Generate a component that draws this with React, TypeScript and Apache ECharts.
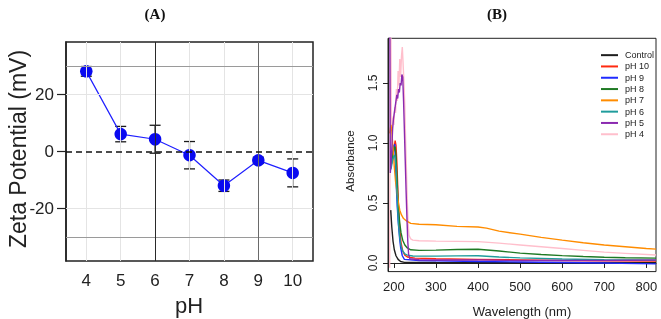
import React, { useEffect, useRef } from "react";
import * as echarts from "echarts";

// ---- Panel A: zeta potential vs pH ----
const PH_VALUES = [4, 5, 6, 7, 8, 9, 10];
const ZETA_MEAN = [28.1, 6.1, 4.3, -1.3, -12.0, -3.1, -7.5];
const ZETA_ERR = [1.7, 2.7, 4.9, 4.8, 2.0, 1.1, 4.9];
const ZETA_TICKS = [-20, 0, 20];
const ZETA_REF_LINES = [30, -30];
const ZETA_LIGHT_GRID = [20, -20];
const PH_DARK_LINES = [6, 9];

// ---- Panel B: absorbance spectra ----
const WAVELENGTH_TICKS = [200, 300, 400, 500, 600, 700, 800];
const ABS_TICKS = [0, 0.5, 1, 1.5];
const SPECTRA_NAMES = ["Control", "pH 10", "pH 9", "pH 8", "pH 7", "pH 6", "pH 5", "pH 4"];
const SPECTRA_COLORS = ["#1e1e1e", "#ff2a10", "#1f2bff", "#1f7a24", "#ff8c00", "#1f9c9c", "#8b2ab0", "#ffbfcc"];

const CONTROL = [
  [192.5, 0.44], [195, 0.3], [198, 0.18], [201, 0.11], [205, 0.06], [210, 0.03], [216, 0.012],
  [225, 0.005], [300, 0.004], [400, 0.003], [500, 0.003], [600, 0.002], [700, 0.002], [823, 0.002],
];
const PH10 = [
  [193, 0.8], [197, 0.88], [200, 0.95], [203, 1.02], [205, 0.98], [207, 0.85], [209, 0.65], [211, 0.45],
  [214, 0.28], [217, 0.17], [221, 0.1], [226, 0.065], [232, 0.05], [250, 0.04], [300, 0.035],
  [400, 0.03], [500, 0.025], [600, 0.02], [700, 0.018], [823, 0.015],
];
const PH9 = [
  [193, 0.85], [196, 0.9], [199, 0.97], [202, 0.99], [204, 0.8], [206, 0.62], [208, 0.47], [210, 0.36],
  [212, 0.27], [214, 0.19], [216, 0.13], [220, 0.06], [225, 0.03], [260, 0.02], [300, 0.018],
  [400, 0.012], [500, 0.008], [600, 0.004], [700, 0.0], [823, -0.008],
];
const PH8 = [
  [193, 0.8], [197, 0.9], [201, 0.96], [203, 0.97], [205, 0.9], [207, 0.75], [209, 0.58], [211, 0.45],
  [214, 0.33], [217, 0.25], [221, 0.19], [226, 0.15], [232, 0.125], [240, 0.11], [260, 0.105],
  [300, 0.107], [350, 0.112], [400, 0.114], [450, 0.1], [500, 0.082], [550, 0.07], [600, 0.061],
  [650, 0.054], [700, 0.048], [750, 0.044], [823, 0.04],
];
const PH7 = [
  [190, 1.08], [193, 1.15], [195, 1.1], [197, 1.0], [199, 0.9], [201, 0.8], [204, 0.68], [207, 0.6],
  [210, 0.52], [214, 0.44], [218, 0.4], [223, 0.37], [230, 0.35], [240, 0.33], [260, 0.322],
  [300, 0.318], [350, 0.305], [400, 0.3], [420, 0.29], [450, 0.265], [500, 0.24], [550, 0.213],
  [600, 0.19], [650, 0.168], [700, 0.15], [750, 0.135], [800, 0.12], [823, 0.115],
];
const PH6 = [
  [193, 0.78], [197, 0.86], [201, 0.9], [203, 0.88], [205, 0.8], [207, 0.62], [209, 0.45], [211, 0.32],
  [214, 0.21], [217, 0.14], [221, 0.1], [226, 0.075], [232, 0.065], [245, 0.058], [300, 0.057],
  [350, 0.059], [400, 0.06], [450, 0.05], [500, 0.042], [600, 0.033], [700, 0.027], [823, 0.023],
];
const PH5 = [
  [190, 2.5], [191.5, 0.75], [193, 0.82], [195, 0.95], [197, 1.12], [199, 1.2], [201, 1.25], [203, 1.3],
  [205, 1.35], [207, 1.4], [209, 1.37], [211, 1.45], [213, 1.42], [215, 1.5], [217, 1.48], [219, 1.57],
  [221, 1.55], [223, 1.35], [225, 1.1], [227, 0.85], [229, 0.6], [231, 0.38], [233, 0.18], [235, 0.07],
  [238, 0.035], [260, 0.027], [300, 0.025], [400, 0.025], [500, 0.02], [600, 0.02], [700, 0.02],
  [823, 0.025],
];
const PH4 = [
  [190, -0.04], [192, 2.4], [194, 1.15], [196, 1.08], [198, 1.22], [200, 1.15], [202, 1.3], [204, 1.25],
  [206, 1.45], [208, 1.35], [210, 1.6], [212, 1.48], [214, 1.7], [216, 1.55], [218, 1.72], [220, 1.8],
  [222, 1.65], [224, 1.5], [226, 1.3], [228, 1.0], [230, 0.75], [232, 0.5], [234, 0.32], [236, 0.23],
  [240, 0.2], [245, 0.19], [260, 0.185], [300, 0.182], [350, 0.18], [400, 0.178], [450, 0.165],
  [500, 0.15], [550, 0.135], [600, 0.12], [650, 0.105], [700, 0.09], [750, 0.08], [823, 0.066],
];
const SPECTRA_DATA = [CONTROL, PH10, PH9, PH8, PH7, PH6, PH5, PH4];
// pH 4 goes underneath the other traces
const DRAW_ORDER = [7, 0, 1, 2, 3, 4, 5, 6];

const SANS = "'Liberation Sans', Arial, Helvetica, sans-serif";
const SERIF = "'Liberation Serif', 'Times New Roman', serif";

export default function App() {
  const ref = useRef<HTMLDivElement>(null);

  useEffect(() => {
    if (!ref.current) return;
    const chart = echarts.init(ref.current, null, { renderer: "svg" });

    const errorData = PH_VALUES.map((x, i) => [x, ZETA_MEAN[i] - ZETA_ERR[i], ZETA_MEAN[i] + ZETA_ERR[i]]);
    const meanData = PH_VALUES.map((x, i) => [x, ZETA_MEAN[i]]);

    const refLines: any[] = [
      ...PH_VALUES.filter((v) => !PH_DARK_LINES.includes(v)).map((v) => ({
        xAxis: v,
        lineStyle: { color: "#e4e4e4", width: 1, type: "solid" },
      })),
      ...ZETA_LIGHT_GRID.map((v) => ({ yAxis: v, lineStyle: { color: "#e4e4e4", width: 1, type: "solid" } })),
      ...ZETA_REF_LINES.map((v) => ({ yAxis: v, lineStyle: { color: "#9a9a9a", width: 1, type: "solid" } })),
      { xAxis: PH_DARK_LINES[0], lineStyle: { color: "#2a2a2a", width: 1, type: "solid" } },
      { xAxis: PH_DARK_LINES[1], lineStyle: { color: "#6a6a6a", width: 1, type: "solid" } },
      { yAxis: 0, lineStyle: { color: "#111", width: 1.6, type: [6, 4] } },
    ];

    const spectraSeries = DRAW_ORDER.map((i) => ({
      name: SPECTRA_NAMES[i],
      type: "line",
      xAxisIndex: 1,
      yAxisIndex: 1,
      data: SPECTRA_DATA[i],
      showSymbol: false,
      symbol: "none",
      clip: true,
      lineStyle: { color: SPECTRA_COLORS[i], width: 1.4 },
      itemStyle: { color: SPECTRA_COLORS[i] },
      z: 3,
    }));

    chart.setOption({
      animation: false,
      graphic: [
        { type: "text", x: 155, y: 14, style: { text: "(A)", font: `bold 15px ${SERIF}`, fill: "#111", textAlign: "center", textVerticalAlign: "middle" } },
        { type: "text", x: 497, y: 14, style: { text: "(B)", font: `bold 15px ${SERIF}`, fill: "#111", textAlign: "center", textVerticalAlign: "middle" } },
        { type: "text", x: 18, y: 149, rotation: Math.PI / 2, style: { text: "Zeta Potential (mV)", font: `23px ${SANS}`, fill: "#222", textAlign: "center", textVerticalAlign: "middle" } },
        { type: "text", x: 189, y: 305, style: { text: "pH", font: `22px ${SANS}`, fill: "#222", textAlign: "center", textVerticalAlign: "middle" } },
        { type: "text", x: 350, y: 161, rotation: Math.PI / 2, style: { text: "Absorbance", font: `11.5px ${SANS}`, fill: "#222", textAlign: "center", textVerticalAlign: "middle" } },
        { type: "text", x: 522, y: 311, style: { text: "Wavelength (nm)", font: `13px ${SANS}`, fill: "#222", textAlign: "center", textVerticalAlign: "middle" } },
      ],
      legend: {
        data: SPECTRA_NAMES,
        orient: "vertical",
        left: 596,
        top: 44.5,
        itemWidth: 17,
        itemHeight: 2,
        itemGap: 0,
        icon: "rect",
        selectedMode: false,
        textStyle: { fontSize: 9, lineHeight: 11.3, fontFamily: SANS, color: "#222", padding: [0, 0, 0, 2] },
      },
      grid: [
        { left: 66, top: 42, width: 247, height: 219, show: true, borderColor: "#222", borderWidth: 1.5, backgroundColor: "transparent" },
        { left: 388, top: 38.3, width: 268, height: 233.3, show: true, borderColor: "#222", borderWidth: 1, backgroundColor: "transparent" },
      ],
      xAxis: [
        {
          type: "value",
          gridIndex: 0,
          min: 3.41,
          max: 10.59,
          axisLine: { show: false },
          axisTick: { show: false },
          splitLine: { show: false },
          axisLabel: { customValues: PH_VALUES, margin: 11, fontSize: 17, fontFamily: SANS, color: "#222" },
        },
        {
          type: "value",
          gridIndex: 1,
          min: 186,
          max: 823,
          axisLine: { show: true, lineStyle: { color: "#222", width: 1 } },
          axisTick: { show: true, customValues: WAVELENGTH_TICKS, length: 5, inside: false, lineStyle: { color: "#222" } },
          splitLine: { show: false },
          axisLabel: { customValues: WAVELENGTH_TICKS, margin: 8, fontSize: 13, fontFamily: SANS, color: "#222" },
        },
      ],
      yAxis: [
        {
          type: "value",
          gridIndex: 0,
          min: -38.4,
          max: 38.4,
          axisLine: { show: true, lineStyle: { color: "#222", width: 1.5 } },
          axisTick: { show: true, customValues: ZETA_TICKS, length: 9, inside: false, lineStyle: { color: "#222", width: 1.2 } },
          splitLine: { show: false },
          axisLabel: { customValues: ZETA_TICKS, margin: 12, fontSize: 17, fontFamily: SANS, color: "#222" },
        },
        {
          type: "value",
          gridIndex: 1,
          min: -0.072,
          max: 1.872,
          axisLine: { show: true, lineStyle: { color: "#222", width: 1 } },
          axisTick: { show: true, customValues: ABS_TICKS, length: 5, inside: false, lineStyle: { color: "#222" } },
          splitLine: { show: false },
          axisLabel: {
            customValues: ABS_TICKS,
            rotate: 90,
            margin: 9,
            fontSize: 12,
            fontFamily: SANS,
            color: "#222",
            formatter: (v: number) => v.toFixed(1),
          },
        },
      ],
      series: [
        {
          name: "reference lines",
          type: "line",
          xAxisIndex: 0,
          yAxisIndex: 0,
          data: [],
          z: 1,
          markLine: { silent: true, symbol: "none", label: { show: false }, data: refLines },
        },
        {
          name: "error bars",
          type: "custom",
          xAxisIndex: 0,
          yAxisIndex: 0,
          data: errorData,
          z: 3,
          encode: { x: 0, y: [1, 2] },
          renderItem: (params: any, api: any) => {
            const x = api.value(0);
            const lo = api.coord([x, api.value(1)]);
            const hi = api.coord([x, api.value(2)]);
            const w = 5.5;
            const style = { stroke: "#1a1a1a", lineWidth: 1.3 };
            return {
              type: "group",
              children: [
                { type: "line", shape: { x1: lo[0], y1: lo[1], x2: hi[0], y2: hi[1] }, style },
                { type: "line", shape: { x1: lo[0] - w, y1: lo[1], x2: lo[0] + w, y2: lo[1] }, style },
                { type: "line", shape: { x1: hi[0] - w, y1: hi[1], x2: hi[0] + w, y2: hi[1] }, style },
              ],
            };
          },
        },
        {
          name: "zeta",
          type: "line",
          xAxisIndex: 0,
          yAxisIndex: 0,
          data: meanData,
          z: 4,
          symbol: "circle",
          symbolSize: 12.5,
          showSymbol: true,
          lineStyle: { color: "#1f1fff", width: 1.2 },
          itemStyle: { color: "#0a0af0", borderWidth: 0 },
        },
        ...spectraSeries,
      ],
    });

    return () => chart.dispose();
  }, []);

  return <div ref={ref} style={{ position: "fixed", left: 0, top: 0, width: 661, height: 319 }} />;
}
